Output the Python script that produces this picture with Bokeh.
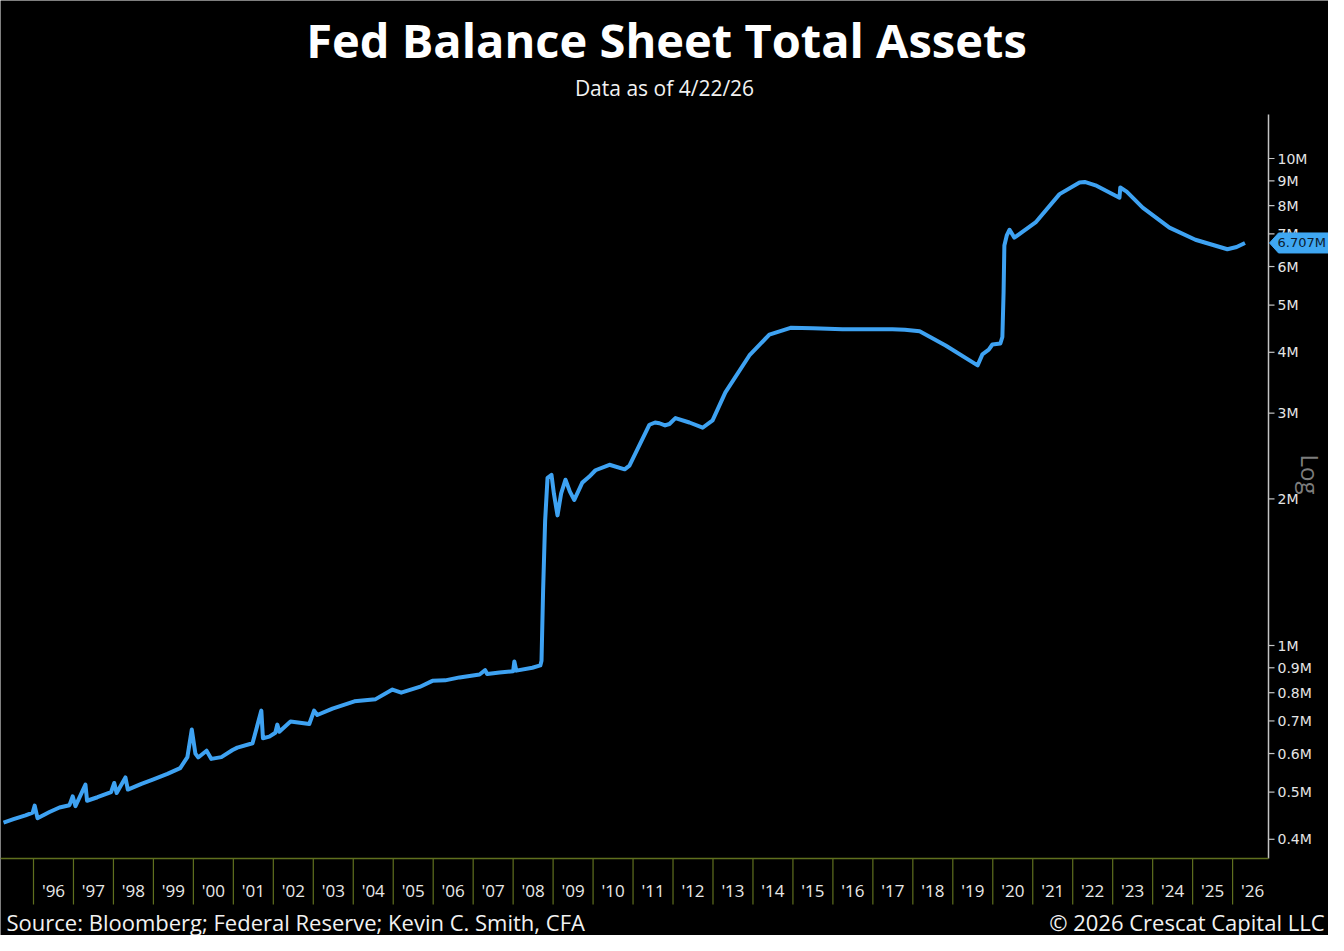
import numpy as np
from bokeh.plotting import figure
from bokeh.models import Range1d
from bokeh.core.properties import value
from bokeh.embed import file_html
from bokeh.resources import INLINE

# ---------------- data ----------------
title_text = "Fed Balance Sheet Total Assets"
subtitle_text = "Data as of 4/22/26"
source_text = "Source: Bloomberg; Federal Reserve; Kevin C. Smith, CFA"
copyright_text = "\u00a9 2026 Crescat Capital LLC"
axis_scale_text = "Log"

# decimal years
years = [
    1995.25, 1995.50, 1995.80, 1995.98, 1996.03, 1996.10, 1996.40, 1996.65,
    1996.90, 1996.98, 1997.05, 1997.30, 1997.34, 1997.60, 1997.94, 1998.02,
    1998.08, 1998.30, 1998.36, 1998.70, 1999.00, 1999.35, 1999.67, 1999.85,
    1999.96, 2000.05, 2000.12, 2000.33, 2000.45, 2000.70, 2000.98, 2001.10,
    2001.48, 2001.70, 2001.74, 2001.90, 2002.05, 2002.10, 2002.15, 2002.43,
    2002.90, 2003.02, 2003.10, 2003.48, 2004.03, 2004.56, 2004.98, 2005.20,
    2005.66, 2005.98, 2006.30, 2006.66, 2007.16, 2007.30, 2007.35, 2007.66,
    2008.00, 2008.03, 2008.08, 2008.48, 2008.68, 2008.71, 2008.75, 2008.80,
    2008.86, 2008.96, 2009.02, 2009.11, 2009.20, 2009.31, 2009.42, 2009.53,
    2009.73, 2009.90, 2010.06, 2010.41, 2010.79, 2010.91, 2011.41, 2011.55,
    2011.66, 2011.80, 2011.91, 2012.06, 2012.41, 2012.74, 2012.99, 2013.31,
    2013.91, 2014.41, 2014.94, 2015.50, 2016.24, 2016.90, 2017.49, 2017.80,
    2018.17, 2018.82, 2019.62, 2019.74, 2019.90, 2019.99, 2020.19, 2020.24,
    2020.27, 2020.29, 2020.35, 2020.42, 2020.54, 2021.07, 2021.67, 2022.17,
    2022.30, 2022.57, 2023.17, 2023.19, 2023.35, 2023.75, 2024.42, 2025.07,
    2025.87, 2026.10, 2026.31,
]
# total assets, millions (shown as "M")
assets_m = [
    0.433, 0.440, 0.448, 0.454, 0.469, 0.442, 0.455, 0.465,
    0.470, 0.490, 0.468, 0.518, 0.480, 0.488, 0.500, 0.522,
    0.498, 0.536, 0.506, 0.520, 0.531, 0.545, 0.560, 0.590,
    0.672, 0.600, 0.589, 0.608, 0.585, 0.590, 0.610, 0.617,
    0.630, 0.735, 0.645, 0.650, 0.662, 0.688, 0.665, 0.698,
    0.690, 0.735, 0.720, 0.742, 0.768, 0.776, 0.812, 0.800,
    0.822, 0.846, 0.848, 0.860, 0.872, 0.890, 0.874, 0.880,
    0.885, 0.927, 0.888, 0.900, 0.910, 0.930, 1.300, 1.800,
    2.210, 2.240, 2.050, 1.850, 2.050, 2.190, 2.070, 1.990,
    2.160, 2.220, 2.290, 2.350, 2.300, 2.340, 2.840, 2.870,
    2.860, 2.830, 2.850, 2.930, 2.870, 2.800, 2.900, 3.310,
    3.940, 4.350, 4.490, 4.480, 4.460, 4.460, 4.460, 4.450,
    4.420, 4.130, 3.760, 3.960, 4.050, 4.150, 4.170, 4.300,
    5.300, 6.630, 6.950, 7.140, 6.880, 7.390, 8.450, 8.930,
    8.950, 8.810, 8.310, 8.720, 8.550, 7.930, 7.210, 6.810,
    6.510, 6.580, 6.707,
]
last_value = 6.707

y_ticks = [0.4, 0.5, 0.6, 0.7, 0.8, 0.9, 1, 2, 3, 4, 5, 6, 7, 8, 9, 10]
year_starts = list(range(1996, 2027))

# ---------------- layout / styling ----------------
BG = "#000000"
LINE = "#3ea2f2"
OLIVE = "#5f6f1e"
AXIS = "#c4c4c4"
TXT = "#f2f2f2"
FONT = "Open Sans"

W, H = 1328, 935           # figure size (page offset 8px)
PX_YEAR = 39.97            # pixels per year
PX_DEC = 487.0             # pixels per decade (log axis)


def yr(px):                # page x pixel -> year coordinate
    return 1996 + (px - 41) / PX_YEAR


def val(py):               # page y pixel -> value coordinate (log)
    return 10 ** ((653 - py) / PX_DEC)


# chart area edges
XL, XR = yr(8), yr(1276)
YB, YT = val(866), val(122)

p = figure(width=W, height=H,
           x_range=Range1d(yr(8), yr(8 + W)),
           y_range=Range1d(val(8 + H), val(8)),
           y_axis_type="log", x_axis_location=None, y_axis_location=None,
           output_backend="svg", toolbar_location=None, tools="")
p.min_border = 0
p.background_fill_color = BG
p.border_fill_color = BG
p.outline_line_color = None
p.grid.visible = False

# --- data line
p.line(years, assets_m, line_width=4, color=LINE, line_join="round")

# --- right (log) axis: line, ticks, labels
p.segment(x0=[XR], y0=[YB], x1=[XR], y1=[YT], line_color=AXIS, line_width=1.5)
tick_len = 6 / PX_YEAR
p.segment(x0=[XR] * len(y_ticks), y0=y_ticks,
          x1=[XR + tick_len] * len(y_ticks), y1=y_ticks,
          line_color=AXIS, line_width=1.2)
tick_labels = [(f"{t:.0f}M" if t >= 1 else f"{t:.1f}M") for t in y_ticks]
p.text(x=[XR + 9 / PX_YEAR] * len(y_ticks), y=y_ticks, text=tick_labels,
       text_font=value("DejaVu Sans"), text_font_size="14px",
       text_color="#e4e4e4", text_align="left", text_baseline="middle")

# --- bottom (year) axis: line, separators, labels
p.segment(x0=[XL], y0=[YB], x1=[XR], y1=[YB], line_color=OLIVE, line_width=1.5)
p.segment(x0=year_starts, y0=[YB] * len(year_starts),
          x1=year_starts, y1=[val(912)] * len(year_starts),
          line_color=OLIVE, line_width=1.2)
year_labels = ["'" + f"{y % 100:02d}" for y in year_starts]
p.text(x=[y + 0.5 for y in year_starts], y=[val(898)] * len(year_starts),
       text=year_labels, text_font=value(FONT), text_font_size="17px",
       text_color="#e8e8e8", text_align="center", text_baseline="middle")

# --- titles and footer
p.text(x=[yr(674)], y=[val(47)], text=[title_text], text_font=value(FONT),
       text_font_style="bold", text_font_size="47px", text_color="#ffffff",
       text_align="center", text_baseline="middle")
p.text(x=[yr(672)], y=[val(95)], text=[subtitle_text], text_font=value(FONT),
       text_font_size="21px", text_color=TXT,
       text_align="center", text_baseline="middle")
p.text(x=[yr(14)], y=[val(929)], text=[source_text], text_font=value(FONT),
       text_font_size="22px", text_color=TXT,
       text_align="left", text_baseline="middle")
p.text(x=[yr(1332)], y=[val(929)], text=[copyright_text], text_font=value(FONT),
       text_font_size="22px", text_color=TXT,
       text_align="right", text_baseline="middle")

# --- "Log" marker
p.text(x=[yr(1318)], y=[val(482)], text=[axis_scale_text], text_font=value(FONT),
       text_font_size="24px", text_color="#7d7d7d", angle=-np.pi / 2,
       text_align="center", text_baseline="middle")

# --- last-value callout
up = last_value * 10 ** (10 / PX_DEC)
dn = last_value * 10 ** (-10 / PX_DEC)
p.patch(x=[XR + 1 / PX_YEAR, yr(1286), yr(1345), yr(1345), yr(1286)],
        y=[last_value, up, up, dn, dn],
        fill_color="#3fa7f2", line_color="#3fa7f2")
p.text(x=[yr(1285)], y=[last_value], text=[f"{last_value:.3f}M"],
       text_font=value("DejaVu Sans"), text_font_size="13px",
       text_color="#0b1a2e", text_align="left", text_baseline="middle")

open("out.html", "w").write(file_html(p, INLINE))
